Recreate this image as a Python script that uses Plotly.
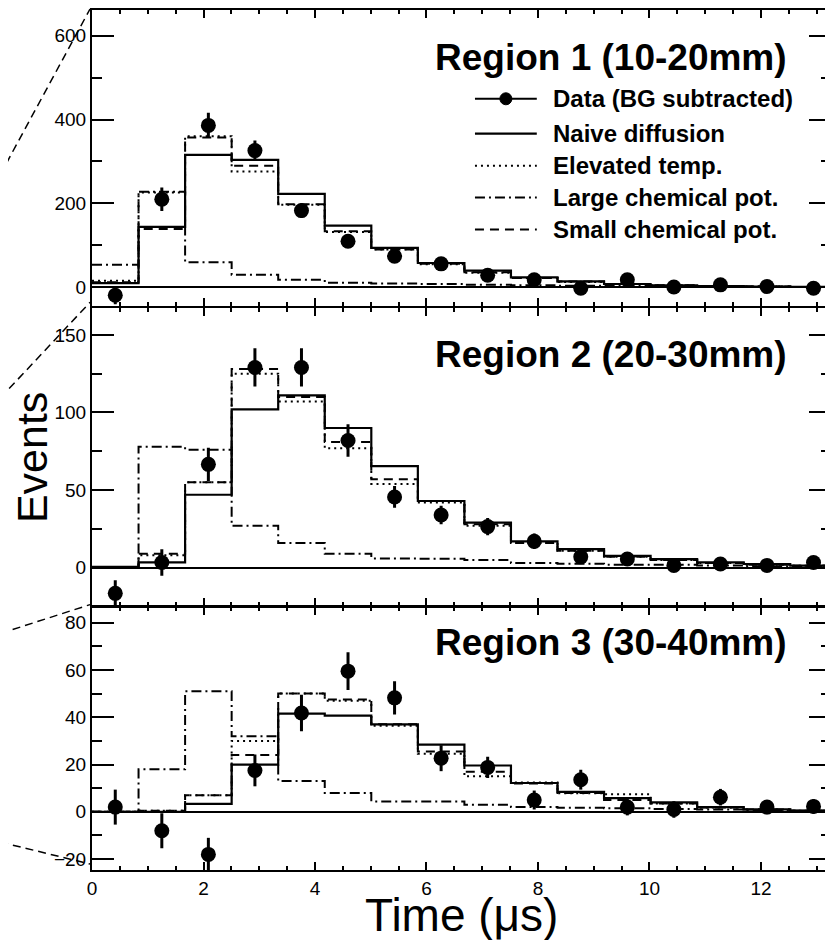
import plotly.graph_objects as go

# ---------------- data ----------------
n_bins = 16
bin_width = 0.835  # microseconds
edges = [i * bin_width for i in range(n_bins + 1)]
centers = [(i + 0.5) * bin_width for i in range(n_bins)]

# Region 1 (10-20mm)
data1 = [-19, 210, 386, 326, 183, 110, 74, 56, 29, 18, -2, 18, 1, 6, 2, -2]
err1 = [21, 28, 30, 24, 17, 14, 12, 10, 9, 8, 8, 7, 7, 6, 6, 6]
naive1 = [10, 144, 316, 304, 223, 147, 94, 58, 40, 24, 14, 8, 5, 3, 2, 1]
elev1 = [16, 226, 360, 276, 197, 132, 90, 55, 35, 22, 13, 8, 5, 3, 2, 1]
large1 = [54, 228, 60, 30, 18, 11, 9, 8, 6, 5, 4, 3, 3, 2, 2, 1]
small1 = [12, 139, 357, 290, 198, 134, 90, 56, 36, 22, 14, 8, 5, 3, 2, 1]

# Region 2 (20-30mm)
data2 = [-16.5, 3.4, 66.6, 129, 129, 82, 45.6, 34, 26.5, 17, 7, 5.6, 1.5, 2.4, 1.5, 3.4]
err2 = [8.5, 8.5, 10.7, 12.3, 12.3, 10.5, 7, 6, 5.5, 5, 4.5, 4, 4, 4, 4, 4]
naive2 = [0.5, 3.4, 47, 102, 111, 90, 65.5, 43, 29, 17, 12, 7.7, 5.6, 3.4, 2.4, 1.3]
elev2 = [0.5, 8, 55, 125, 107, 77, 54, 42, 27, 16, 11, 7, 5, 3, 2, 1.3]
large2 = [0.5, 78, 76, 27, 16, 9, 6, 5.8, 5, 3, 2.5, 2, 2, 1.5, 1, 1]
small2 = [0.5, 9, 55, 128, 110, 81, 57, 43, 28, 16, 11, 7, 5, 3, 2, 1.3]

# Region 3 (30-40mm)
data3 = [2, -8, -18, 17.5, 41.8, 59.5, 48.2, 22.7, 18.8, 5, 13.6, 2, 1, 6.2, 2, 2.3]
err3 = [7.4, 7.4, 7, 6.7, 7.7, 8, 7, 5.5, 4.5, 4, 4.2, 3.5, 3.5, 3.5, 3, 3]
naive3 = [0, 0, 3.4, 20, 41.5, 40.7, 37, 28.4, 19.6, 12.2, 8.4, 5.8, 4, 2, 1, 0.5]
elev3 = [0, 0.5, 7, 30, 50, 47, 36.4, 24.6, 15, 12.4, 7.9, 7.4, 3.5, 1.8, 1, 0.5]
large3 = [0, 18, 51, 32, 13, 8, 4.4, 4.4, 3, 2, 1.7, 1.5, 1.2, 1, 0.8, 0.5]
small3 = [0, 0.5, 7, 24, 50, 47.5, 37, 25.5, 17, 12, 8, 5, 3.5, 1.8, 1, 0.5]

region_titles = ["Region 1 (10-20mm)", "Region 2 (20-30mm)", "Region 3 (30-40mm)"]
legend_names = ["Data (BG subtracted)", "Naive diffusion", "Elevated temp.",
                "Large chemical pot.", "Small chemical pot."]

y_ranges = [[-45.2, 661.1], [-24.4, 167.3], [-24.6, 86.8]]
y_dticks = [200, 50, 20]
y_minor = [100, 25, 10]
x_range = [0, 13.256]

# ---------------- layout geometry (screen px -> paper) ----------------
OFF = 8                      # page body margin
SW, SH = 833, 940            # screen size
W, H = SW - OFF, SH - OFF    # figure size
ML, MR, MT, MB = 92 - OFF, 0, 0, SH - 870
PW = W - ML - MR
PH = H - MT - MB


def px_x(s):
    return (s - OFF - ML) / PW


def px_y(s):
    return (H - MB - (s - OFF)) / PH


domains = [[px_y(305), 1.0], [px_y(605), px_y(306.7)], [0.0, px_y(606)]]
title_y = [55.5, 353, 642]

FONT = "Liberation Sans, Arial, Helvetica, sans-serif"

styles = {
    "naive": dict(color="black", width=2.2),
    "elev": dict(color="black", width=2, dash="2px,4px"),
    "large": dict(color="black", width=2, dash="10px,4px,2px,4px"),
    "small": dict(color="black", width=2, dash="9px,6px"),
}

fig = go.Figure()

panels = [
    (data1, err1, naive1, elev1, large1, small1),
    (data2, err2, naive2, elev2, large2, small2),
    (data3, err3, naive3, elev3, large3, small3),
]

for i, (d, e, nv, el, lg, sm) in enumerate(panels):
    xa = "x" if i == 0 else f"x{i+1}"
    ya = "y" if i == 0 else f"y{i+1}"
    for key, vals in (("large", lg), ("small", sm), ("elev", el), ("naive", nv)):
        fig.add_trace(go.Scatter(
            x=edges, y=list(vals) + [vals[-1]], mode="lines",
            line=dict(shape="hv", **styles[key]),
            xaxis=xa, yaxis=ya, showlegend=False, hoverinfo="skip"))
    fig.add_trace(go.Scatter(
        x=centers, y=d, mode="markers",
        marker=dict(color="black", size=15, symbol="circle"),
        error_y=dict(type="data", array=e, thickness=3, width=0, color="black"),
        xaxis=xa, yaxis=ya, showlegend=False))

layout = dict(
    width=W, height=H,
    margin=dict(l=ML, r=MR, t=MT, b=MB, pad=0),
    paper_bgcolor="white", plot_bgcolor="white",
    showlegend=False,
    font=dict(family=FONT, color="black"),
)

for i in range(3):
    xk = "xaxis" if i == 0 else f"xaxis{i+1}"
    yk = "yaxis" if i == 0 else f"yaxis{i+1}"
    ya = "y" if i == 0 else f"y{i+1}"
    xa = "x" if i == 0 else f"x{i+1}"
    layout[xk] = dict(
        domain=[0, 1], anchor=ya, range=x_range,
        showline=True, linecolor="black", linewidth=2, mirror="ticks",
        ticks="inside", ticklen=8, tickwidth=2, tickcolor="black",
        dtick=2, tick0=0, showgrid=False, zeroline=False,
        minor=dict(dtick=0.5, ticklen=4, tickwidth=1.5, ticks="inside",
                   tickcolor="black", showgrid=False),
        showticklabels=(i == 2),
        tickfont=dict(size=19, family=FONT, color="black"),
    )
    if i > 0:
        layout[xk]["matches"] = "x"
    layout[yk] = dict(
        domain=domains[i], anchor=xa, range=y_ranges[i],
        showline=True, linecolor="black", linewidth=2, mirror="ticks",
        ticks="inside", ticklen=22, tickwidth=2, tickcolor="black",
        dtick=y_dticks[i], tick0=0, showgrid=False,
        zeroline=True, zerolinecolor="black", zerolinewidth=1.5,
        minor=dict(dtick=y_minor[i], ticklen=10, tickwidth=2, ticks="inside",
                   tickcolor="black", showgrid=False),
        tickfont=dict(size=19, family=FONT, color="black"),
    )

fig.update_layout(**layout)

annotations = []
shapes = []

# region titles
for i, t in enumerate(region_titles):
    annotations.append(dict(
        text=f"<b>{t}</b>", xref="paper", yref="paper",
        x=px_x(791), y=px_y(title_y[i]), xanchor="right", yanchor="middle",
        showarrow=False, font=dict(size=37, family=FONT, color="black")))

# legend
rows = [97, 132, 164, 196, 228]
leg_styles = [dict(color="black", width=2), styles["naive"], styles["elev"],
              styles["large"], styles["small"]]
for name, row, st in zip(legend_names, rows, leg_styles):
    shapes.append(dict(type="line", xref="paper", yref="paper",
                       x0=px_x(476), x1=px_x(538), y0=px_y(row), y1=px_y(row),
                       line=st))
    annotations.append(dict(
        text=f"<b>{name}</b>", xref="paper", yref="paper",
        x=px_x(552), y=px_y(row), xanchor="left", yanchor="middle",
        showarrow=False, font=dict(size=24, family=FONT, color="black")))
shapes.append(dict(type="circle", xref="paper", yref="paper",
                   xsizemode="pixel", ysizemode="pixel",
                   xanchor=px_x(507), yanchor=px_y(rows[0]),
                   x0=-6, x1=6, y0=-6, y1=6,
                   fillcolor="black", line=dict(color="black", width=1)))

# axis titles
annotations.append(dict(
    text="Events", xref="paper", yref="paper", x=px_x(32), y=px_y(457),
    xanchor="center", yanchor="middle", textangle=-90, showarrow=False,
    font=dict(size=43, family=FONT, color="black")))
annotations.append(dict(
    text="Time (μs)", xref="paper", yref="paper", x=px_x(463), y=px_y(915),
    xanchor="center", yanchor="middle", showarrow=False,
    font=dict(size=46, family=FONT, color="black")))

# decorative dashed zoom-guide lines at the left
guides = [((0, 173), (90, 7)), ((0, 397), (90, 301)),
          ((0, 633), (90, 604)), ((0, 842), (90, 864))]
for (ax, ay), (bx, by) in guides:
    shapes.append(dict(type="line", xref="paper", yref="paper",
                       x0=px_x(ax), y0=px_y(ay), x1=px_x(bx), y1=px_y(by),
                       line=dict(color="black", width=1.5, dash="8px,5px")))

fig.update_layout(annotations=annotations, shapes=shapes)
fig.write_html("out.html")
